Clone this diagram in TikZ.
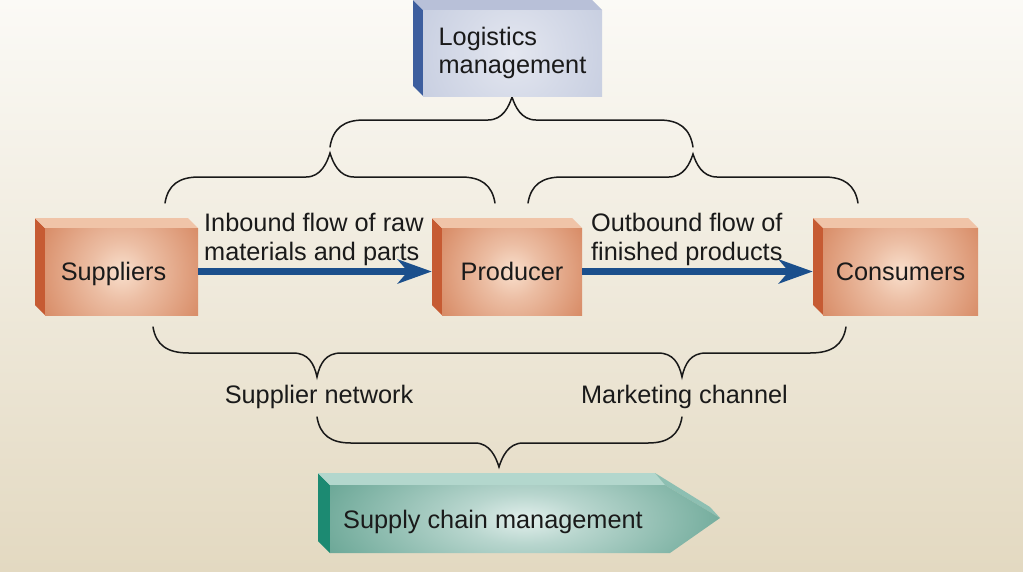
\documentclass[tikz,border=0pt]{standalone}
\usepackage{fontspec}
\setmainfont{Liberation Sans}
\usetikzlibrary{arrows.meta}

\definecolor{bgtop}{HTML}{FBFAF6}
\definecolor{bgbot}{HTML}{E3D9C1}
\definecolor{txt}{HTML}{1A1A1A}
\definecolor{flowblue}{HTML}{1B4F8C}
\definecolor{orside}{HTML}{C65B33}
\definecolor{ortop}{HTML}{F0C4A8}
\definecolor{orout}{HTML}{D88C67}
\definecolor{orin}{HTML}{F9DFCC}
\definecolor{blside}{HTML}{3D5E9E}
\definecolor{bltop}{HTML}{B8C0D8}
\definecolor{blout}{HTML}{BFC7DC}
\definecolor{blin}{HTML}{E4E7F0}
\definecolor{tlside}{HTML}{1C8A72}
\definecolor{tltop}{HTML}{B3D7CD}
\definecolor{tlout}{HTML}{69A695}
\definecolor{tlin}{HTML}{E2EFEC}
\definecolor{tlfacet}{HTML}{8DBFB2}

\pgfdeclareradialshading{orglow}{\pgfpoint{0bp}{0bp}}{color(0bp)=(orin);color(10bp)=(orin!60!orout);color(29bp)=(orout);color(50bp)=(orout)}
\pgfdeclareradialshading{blglow}{\pgfpoint{0bp}{0bp}}{color(0bp)=(blin);color(14bp)=(blin!60!blout);color(38bp)=(blout);color(50bp)=(blout)}
\pgfdeclareradialshading{tlglow}{\pgfpoint{0bp}{0bp}}{color(0bp)=(tlin);color(8bp)=(tlin!65!tlout);color(28bp)=(tlout);color(50bp)=(tlout)}

\tikzset{
  bracestyle/.style={line width=1.5pt, black!90, line cap=round},
  flow/.style={line width=7pt, flowblue, -{Stealth[length=34pt,width=24pt,inset=10pt]}},
  boxlabel/.style={font=\fontsize{25.3}{28.5}\selectfont, text=txt, inner sep=0pt},
  single/.style={text height=18.3pt, text depth=0pt},
  multilabel/.style={font=\fontsize{25.3}{28.5}\selectfont, text=txt, inner sep=0pt, align=left},
}

% name, x1, y1, x2, y2, palette, style, text
\newcommand{\cuboid}[8]{%
  \fill[#6side] (#2-10,#3-10) -- (#2,#3) -- (#2,#5) -- (#2-10,#5-10) -- cycle;
  \fill[#6top] (#2-10,#3-10) -- (#4-10,#3-10) -- (#4,#3) -- (#2,#3) -- cycle;
  \begin{scope}
    \clip (#2,#3) rectangle (#4,#5);
    \shade[shading=#6glow] ({(#2+#4)/2-(#4-#2)/2},{(#3+#5)/2-(#4-#2)/2}) rectangle ({(#2+#4)/2+(#4-#2)/2},{(#3+#5)/2+(#4-#2)/2});
  \end{scope}
  \node[boxlabel, #7, minimum width={(#4-#2)*1pt}, minimum height={(#5-#3)*1pt}] (#1) at ({(#2+#4)/2},{(#3+#5)/2}) {#8};
}

% x1, x2, xm, yend, yflat, ytip
\newcommand{\curlybrace}[6]{%
  \draw[bracestyle] (#1,#4) .. controls (#1+3,{#5+(#4-#5)*0.3}) and (#1+14,#5) .. (#1+34,#5)
    -- (#3-24,#5) .. controls (#3-9,#5) and (#3-3,{#6+(#5-#6)*0.4}) .. (#3,#6)
    .. controls (#3+3,{#6+(#5-#6)*0.4}) and (#3+9,#5) .. (#3+24,#5)
    -- (#2-34,#5) .. controls (#2-14,#5) and (#2-3,{#5+(#4-#5)*0.3}) .. (#2,#4);
}

\begin{document}
\begin{tikzpicture}[x=1pt,y=-1pt]
\useasboundingbox (0,0) rectangle (1023,571);
\shade[top color=bgtop, bottom color=bgbot] (0,0) rectangle (1023,571);

% braces
\curlybrace{330}{693}{512}{147}{120}{97}
\curlybrace{165}{495}{330}{203}{177}{153}
\curlybrace{528}{858}{693}{203}{177}{154}
\draw[bracestyle] (153,327) .. controls (156,345) and (167,353) .. (189,353) -- (293,353)
  .. controls (308,353) and (314,363) .. (317,377) .. controls (320,363) and (326,353) .. (341,353)
  -- (658,353) .. controls (673,353) and (679,363) .. (682,377) .. controls (685,363) and (691,353) .. (706,353)
  -- (810,353) .. controls (832,353) and (843,345) .. (846,327);
\curlybrace{317}{682}{499}{417}{443}{467}

% boxes
\cuboid{log}{423}{10}{602}{96}{bl}{align=left}{Logistics\\management}
\cuboid{sup}{45}{228}{198}{315}{or}{single}{Suppliers\hspace*{16pt}}
\cuboid{prod}{442}{228}{582}{315}{or}{single}{Producer}
\cuboid{cons}{823}{228}{978}{315}{or}{single}{Consumers}

% supply chain arrow
\fill[tlside] (318,473) -- (330,485) -- (330,553) -- (318,541) -- cycle;
\fill[tltop] (318,473) -- (655,473) -- (665,485) -- (330,485) -- cycle;
\fill[tlfacet] (655,473) -- (710,507) -- (720,518) -- (665,485) -- cycle;
\begin{scope}
  \clip (330,485) -- (665,485) -- (720,518) -- (670,553) -- (330,553) -- cycle;
  \shade[shading=tlglow] (330,440) rectangle (720,598);
\end{scope}
\node[boxlabel, single, anchor=west] (scm) at (343,519) {Supply chain management};

% flows
\draw[flow] (sup.east) -- ([xshift=-10pt]prod.west);
\draw[flow] (prod.east) -- ([xshift=-10pt]cons.west);

% labels
\node[multilabel, anchor=west] (inb) at (204,239.5) {Inbound flow of raw\\materials and parts};
\node[multilabel, anchor=west] (outb) at (591,239.5) {Outbound flow of\\finished products};
\node[boxlabel, single] (supnet) at (319,394) {Supplier network};
\node[boxlabel, single] (mkt) at (684.5,394) {Marketing channel};
\end{tikzpicture}
\end{document}
